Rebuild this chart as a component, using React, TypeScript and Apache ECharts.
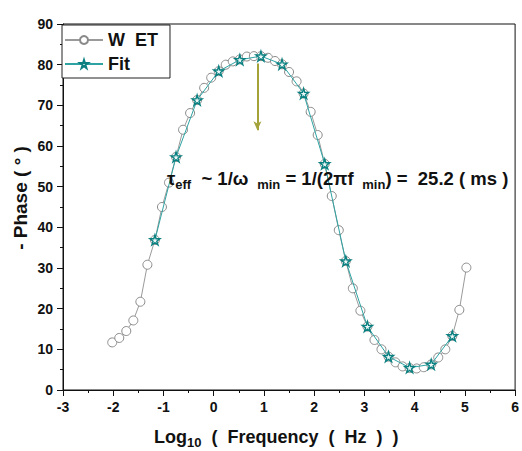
import React, { useEffect, useRef } from 'react';
import * as echarts from 'echarts';

// Log10(frequency) of each measured point
const logFreq = [
  -2.02, -1.88, -1.74, -1.6, -1.46, -1.32, -1.17, -1.03, -0.89, -0.75,
  -0.61, -0.47, -0.33, -0.19, -0.05, 0.1, 0.24, 0.38, 0.52, 0.66,
  0.8, 0.94, 1.08, 1.22, 1.36, 1.5, 1.65, 1.79, 1.93, 2.07,
  2.21, 2.35, 2.49, 2.63, 2.77, 2.92, 3.06, 3.2, 3.34, 3.48,
  3.62, 3.76, 3.9, 4.04, 4.18, 4.33, 4.47, 4.61, 4.75, 4.89, 5.03,
];
// -Phase (deg), WET
const wetPhase = [
  11.7, 12.8, 14.5, 17.1, 21.7, 30.8, 36.9, 45.0, 51.0, 57.3,
  64.0, 68.1, 71.3, 74.3, 76.8, 78.4, 80.0, 80.8, 81.3, 82.0,
  82.1, 82.1, 81.7, 80.9, 80.1, 78.2, 75.9, 72.9, 68.4, 62.7,
  55.6, 47.7, 39.3, 31.7, 25.0, 19.5, 15.6, 12.3, 10.0, 8.2,
  6.8, 5.8, 5.4, 5.3, 5.6, 6.3, 8.0, 10.0, 13.3, 19.7, 30.1,
];
// Fit
const fitLogFreq = [-1.17, -0.75, -0.33, 0.1, 0.52, 0.94, 1.36, 1.79, 2.21, 2.63, 3.06, 3.48, 3.9, 4.33, 4.75];
const fitPhase = [36.9, 57.3, 71.3, 78.4, 81.2, 82.1, 80.1, 72.9, 55.6, 31.7, 15.6, 8.2, 5.5, 6.3, 13.3];
// arrow marking f_min
const arrowX = 0.87;
const arrowFrom = 80.3;
const arrowTo = 63.9;

const STAR = 'path://M50,0 L61,35 L98,35 L68,57 L79,91 L50,70 L21,91 L32,57 L2,35 L39,35 Z';
const FONT = '"Liberation Sans", Arial, sans-serif';

export default function App() {
  const ref = useRef<HTMLDivElement>(null);
  useEffect(() => {
    document.body.style.margin = '0';
    if (!ref.current) return;
    const chart = echarts.init(ref.current, null, { renderer: 'svg' });
    const axisLabel = { color: '#111', fontWeight: 'bold' as const, fontSize: 14, fontFamily: FONT };
    chart.setOption({
      animation: false,
      backgroundColor: '#fff',
      grid: { left: 63, right: 5, top: 24, bottom: 61, show: true, borderColor: '#111', borderWidth: 1, backgroundColor: 'transparent' },
      xAxis: {
        type: 'value', min: -3, max: 6, interval: 1,
        axisLine: { show: true, onZero: false, lineStyle: { color: '#111', width: 1 } },
        axisTick: { show: true, inside: false, length: 6, lineStyle: { color: '#111' } },
        minorTick: { show: true, splitNumber: 2, length: 3, lineStyle: { color: '#111' } },
        splitLine: { show: false },
        axisLabel: { ...axisLabel, margin: 10 },
      },
      yAxis: {
        type: 'value', min: 0, max: 90, interval: 10,
        axisLine: { show: true, onZero: false, lineStyle: { color: '#111', width: 1 } },
        axisTick: { show: true, inside: false, length: 6, lineStyle: { color: '#111' } },
        minorTick: { show: true, splitNumber: 2, length: 3, lineStyle: { color: '#111' } },
        splitLine: { show: false },
        axisLabel: { ...axisLabel, margin: 10 },
      },
      legend: {
        orient: 'vertical', left: 62, top: 25,
        itemWidth: 38, itemHeight: 10, itemGap: 6,
        padding: [6, 12, 5, 2],
        borderColor: '#222', borderWidth: 1, backgroundColor: '#fff',
        textStyle: { fontSize: 18, fontWeight: 'bold', color: '#111', fontFamily: FONT },
        data: ['W  ET', 'Fit'],
      },
      graphic: [
        {
          type: 'text', left: 167, top: 169, z: 10,
          style: {
            text: 'τ{s|eff}  ~ 1/ω {s| min} = 1/(2πf {s| min}) =  25.2 ( ms )',
            font: `bold 18.5px ${FONT}`,
            fill: '#111',
            rich: {
              s: { fontSize: 13, fontWeight: 'bold', fontFamily: FONT, fill: '#111', padding: [11, 0, 0, 0] },
            },
          },
        },
        {
          type: 'text', left: 154, top: 428,
          style: {
            text: 'Log{s|10}  (  Frequency  (  Hz  )  )',
            font: `bold 18px ${FONT}`,
            fill: '#111',
            rich: { s: { fontSize: 13, fontWeight: 'bold', fontFamily: FONT, fill: '#111', padding: [10, 0, 0, 0] } },
          },
        },
        {
          type: 'text', x: 20, y: 198, rotation: Math.PI / 2,
          style: {
            text: '- Phase ( ° )',
            font: `bold 19px ${FONT}`,
            fill: '#111',
            align: 'center', verticalAlign: 'middle',
          },
        },
      ],
      series: [
        {
          name: 'W  ET', type: 'line',
          data: logFreq.map((x, i) => [x, wetPhase[i]]),
          symbol: 'circle', symbolSize: 9,
          itemStyle: { color: '#fff', borderColor: '#8a8a8a', borderWidth: 1 },
          lineStyle: { color: '#9a9a9a', width: 1 },
          z: 2,
        },
        {
          name: 'Fit', type: 'line',
          data: fitLogFreq.map((x, i) => [x, fitPhase[i]]),
          symbol: STAR, symbolSize: 10,
          itemStyle: { color: '#eef8f8', borderColor: '#0a8080', borderWidth: 1.4 },
          lineStyle: { color: '#2fa3a3', width: 1 },
          z: 3,
          markLine: {
            silent: true, symbol: ['none', 'arrow'], symbolSize: [6, 9],
            label: { show: false },
            lineStyle: { color: '#a3a33a', width: 2, type: 'solid' },
            data: [[{ coord: [arrowX, arrowFrom] }, { coord: [arrowX, arrowTo] }]],
          },
        },
      ],
    });
    return () => chart.dispose();
  }, []);
  return <div ref={ref} style={{ width: 522, height: 451 }} />;
}
